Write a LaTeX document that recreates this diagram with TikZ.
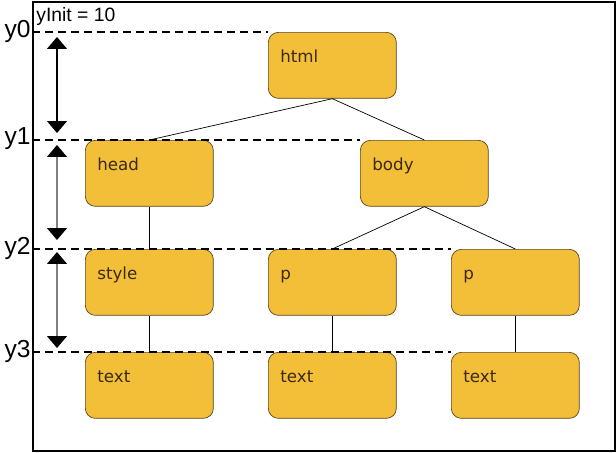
\documentclass[tikz,border=0pt]{standalone}
\usepackage{fontspec}
\setmainfont{Liberation Sans}
\newfontfamily\boxfont{DejaVu Sans}
\usepackage{tikz}
\usetikzlibrary{positioning, arrows.meta}
\definecolor{tFill}{HTML}{F4BF38}
\definecolor{tLine}{HTML}{5A4520}
\definecolor{tText}{HTML}{3A2A10}
\definecolor{tGrey}{HTML}{808080}

\begin{document}
\begin{tikzpicture}[x=0.02cm, y=-0.02cm,
        >={Triangle[width=0.4cm, length=0.24cm, color=black]},
        tbox/.style={draw=tLine, fill=tFill, rounded corners=0.2cm, anchor=north west,
          minimum width=2.56cm, minimum height=1.32cm, inner xsep=0.24cm, inner ysep=0pt,
          text width=2.08cm, align=left, text height=0.6cm, text depth=0.72cm,
          font=\boxfont\fontsize{9.5}{11}\selectfont, text=tText},
        guide/.style={line width=1pt, dash pattern=on 0.16cm off 0.1cm},
        lev/.style={anchor=east, inner sep=0pt, font=\fontsize{14}{16}\selectfont}]
      \useasboundingbox (0,0) rectangle (616,453);
      \node[draw, line width=1.4pt, anchor=north west, minimum width=11.64cm,
        minimum height=8.98cm, inner sep=0pt] (frame) at (32,1) {};
      \node[anchor=north west, inner sep=0pt, font=\fontsize{11}{13}\selectfont]
        (init) at (36,7) {yInit = 10};
      % the tree
      \node[tbox] (html) at (268,32) {html};
      \node[tbox] (head) at (85,140) {head};
      \node[tbox] (body) at (360,140) {body};
      \node[tbox] (style) at (85,249) {style};
      \node[tbox] (p1) at (268,249) {p};
      \node[tbox] (p2) at (451,249) {p};
      \node[tbox] (t1) at (85,352) {text};
      \node[tbox] (t2) at (268,352) {text};
      \node[tbox] (t3) at (451,352) {text};
      \draw (html.south) -- (head.north);
      \draw (html.south) -- (body.north);
      \draw (head) -- (style);
      \draw (style) -- (t1);
      \draw (body.south) -- (p1.north);
      \draw (body.south) -- (p2.north);
      \draw (p1) -- (t2);
      \draw (p2) -- (t3);
      % levels
      \coordinate (l0) at (frame.west |- html.north);
      \coordinate (l1) at (frame.west |- body.north);
      \coordinate (l2) at (frame.west |- p2.north);
      \coordinate (l3) at (frame.west |- t3.north);
      \draw[guide] (l0) -- (html.north west);
      \draw[guide] (l1) -- (body.north west);
      \draw[guide] (l2) -- (p2.north west);
      \draw[guide] (l3) -- (t3.north west);
      \node[lev] (y0) at (31,31) {y0};
      \node[lev] (y1) at (31,139) {y1};
      \node[lev] (y2) at (31,248) {y2};
      \node[lev] (y3) at (31,351) {y3};
      \coordinate (a0) at (57,37);
      \coordinate (b0) at (57,133);
      \coordinate (a1) at (57,145);
      \coordinate (b1) at (57,240);
      \coordinate (a2) at (57,252);
      \coordinate (b2) at (57,348);
      \draw[<->, thick] (a0) -- (b0);
      \draw[<->, thick, tGrey] (a1) -- (b1);
      \draw[<->, thick, tGrey] (a2) -- (b2);
    \end{tikzpicture}
\end{document}
